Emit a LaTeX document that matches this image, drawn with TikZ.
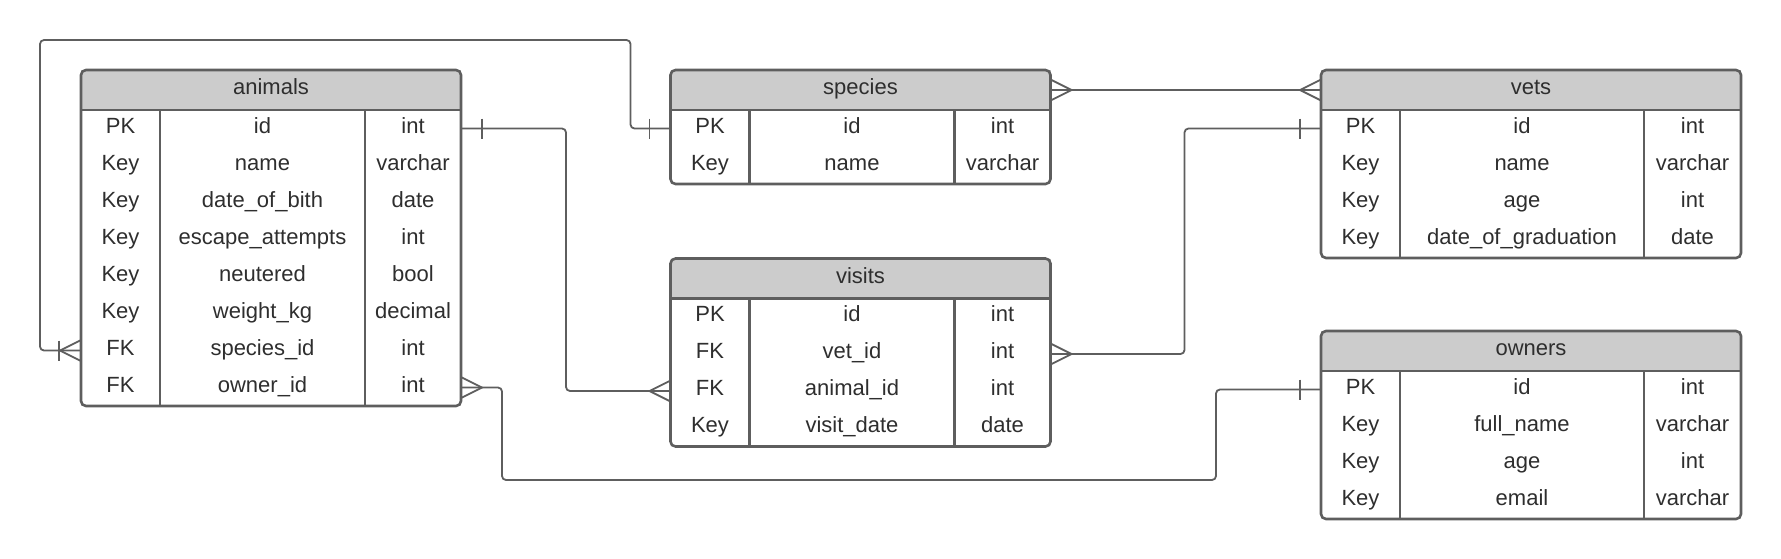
\documentclass[tikz,border=0pt]{standalone}
\usepackage{fontspec}
\setmainfont{Liberation Sans}
\usetikzlibrary{positioning, calc}

\definecolor{edgegray}{HTML}{5E5E5E}
\definecolor{hdrgray}{HTML}{CCCCCC}
\definecolor{txtgray}{HTML}{2E2E2E}

\begin{document}
\begin{tikzpicture}[x=1pt,y=-1pt,node distance=0pt,
every node/.style={inner sep=0pt,outer sep=0pt,text=txtgray,font=\fontsize{22}{24}\selectfont},
hdr/.style={rectangle,fill=hdrgray,minimum height=40,text height=14.6pt,text depth=5.4pt},
cell/.style={rectangle,minimum height=37,text height=14.6pt,text depth=5.4pt},
tbox/.style={draw=edgegray,line width=2.6pt,rounded corners=5pt},
trule/.style={draw=edgegray,line width=2.6pt},
conn/.style={draw=edgegray,line width=1.8pt,rounded corners=4pt},
tickmark/.style={draw=edgegray,line width=1.8pt},
]
\useasboundingbox (0,0) rectangle (1781,558);

% animals
\node[hdr,minimum width=380,anchor=north west] (aH) at (81,70) {animals};
\foreach \ky/\nm/\ty [count=\i] in {PK/id/int, Key/name/varchar, Key/date\_of\_bith/date, Key/escape\_attempts/int, Key/neutered/bool, Key/weight\_kg/decimal, FK/species\_id/int, FK/owner\_id/int}{
  \node[cell,minimum width=79,anchor=north west] (aK\i) at ($(aH.south west)+(0,37*\i-37)$) {\ky};
  \node[cell,minimum width=205,right=of aK\i] (aN\i) {\nm};
  \node[cell,minimum width=96,right=of aN\i] (aT\i) {\ty};
}
\draw[trule] (aH.south west) -- (aH.south east);
\draw[trule] (aN1.north west) -- (aN8.south west);
\draw[trule] (aT1.north west) -- (aT8.south west);
\draw[tbox] (aH.north west) rectangle (aT8.south east);

% species
\node[hdr,minimum width=380,anchor=north west] (sH) at (670.5,70) {species};
\foreach \ky/\nm/\ty [count=\i] in {PK/id/int, Key/name/varchar}{
  \node[cell,minimum width=79,anchor=north west] (sK\i) at ($(sH.south west)+(0,37*\i-37)$) {\ky};
  \node[cell,minimum width=205,right=of sK\i] (sN\i) {\nm};
  \node[cell,minimum width=96,right=of sN\i] (sT\i) {\ty};
}
\draw[trule] (sH.south west) -- (sH.south east);
\draw[trule] (sN1.north west) -- (sN2.south west);
\draw[trule] (sT1.north west) -- (sT2.south west);
\draw[tbox] (sH.north west) rectangle (sT2.south east);

% visits
\node[hdr,minimum width=380,anchor=north west] (vH) at (670.5,258.5) {visits};
\foreach \ky/\nm/\ty [count=\i] in {PK/id/int, FK/vet\_id/int, FK/animal\_id/int, Key/visit\_date/date}{
  \node[cell,minimum width=79,anchor=north west] (vK\i) at ($(vH.south west)+(0,37*\i-37)$) {\ky};
  \node[cell,minimum width=205,right=of vK\i] (vN\i) {\nm};
  \node[cell,minimum width=96,right=of vN\i] (vT\i) {\ty};
}
\draw[trule] (vH.south west) -- (vH.south east);
\draw[trule] (vN1.north west) -- (vN4.south west);
\draw[trule] (vT1.north west) -- (vT4.south west);
\draw[tbox] (vH.north west) rectangle (vT4.south east);

% vets
\node[hdr,minimum width=420,anchor=north west] (vtH) at (1321,70) {vets};
\foreach \ky/\nm/\ty [count=\i] in {PK/id/int, Key/name/varchar, Key/age/int, Key/date\_of\_graduation/date}{
  \node[cell,minimum width=79,anchor=north west] (vtK\i) at ($(vtH.south west)+(0,37*\i-37)$) {\ky};
  \node[cell,minimum width=244,right=of vtK\i] (vtN\i) {\nm};
  \node[cell,minimum width=97,right=of vtN\i] (vtT\i) {\ty};
}
\draw[trule] (vtH.south west) -- (vtH.south east);
\draw[trule] (vtN1.north west) -- (vtN4.south west);
\draw[trule] (vtT1.north west) -- (vtT4.south west);
\draw[tbox] (vtH.north west) rectangle (vtT4.south east);

% owners
\node[hdr,minimum width=420,anchor=north west] (oH) at (1321,331) {owners};
\foreach \ky/\nm/\ty [count=\i] in {PK/id/int, Key/full\_name/varchar, Key/age/int, Key/email/varchar}{
  \node[cell,minimum width=79,anchor=north west] (oK\i) at ($(oH.south west)+(0,37*\i-37)$) {\ky};
  \node[cell,minimum width=244,right=of oK\i] (oN\i) {\nm};
  \node[cell,minimum width=97,right=of oN\i] (oT\i) {\ty};
}
\draw[trule] (oH.south west) -- (oH.south east);
\draw[trule] (oN1.north west) -- (oN4.south west);
\draw[trule] (oT1.north west) -- (oT4.south west);
\draw[tbox] (oH.north west) rectangle (oT4.south east);

\coordinate (loopTL) at (40,40);
\coordinate (ownBot) at (1216,480);

% species -- animals
\draw[conn] (sK1.west) -- ++(-40,0) |- (loopTL) |- (aK7.west);
\draw[tickmark] ($(sK1.west)+(-21,-10)$) -- ($(sK1.west)+(-21,10)$);
\draw[tickmark] ($(aK7.west)+(-22,-10)$) -- ($(aK7.west)+(-22,10)$);
\draw[tickmark] ($(aK7.west)+(0,-10.5)$) -- ($(aK7.west)+(-21,0)$) -- ($(aK7.west)+(0,10.5)$);

% animals -- visits
\draw[conn] (aT1.east) -- ++(105,0) |- (vK3.west);
\draw[tickmark] ($(aT1.east)+(21,-10)$) -- ($(aT1.east)+(21,10)$);
\draw[tickmark] ($(vK3.west)+(0,-10.5)$) -- ($(vK3.west)+(-21,0)$) -- ($(vK3.west)+(0,10.5)$);

% species -- vets
\draw[conn] (sH.east) -- (vtH.west);
\draw[tickmark] ($(sH.east)+(0,-10.5)$) -- ($(sH.east)+(21,0)$) -- ($(sH.east)+(0,10.5)$);
\draw[tickmark] ($(vtH.west)+(0,-10.5)$) -- ($(vtH.west)+(-21,0)$) -- ($(vtH.west)+(0,10.5)$);

% visits -- vets
\draw[conn] (vT2.east) -- ++(134,0) |- (vtK1.west);
\draw[tickmark] ($(vT2.east)+(0,-10.5)$) -- ($(vT2.east)+(21,0)$) -- ($(vT2.east)+(0,10.5)$);
\draw[tickmark] ($(vtK1.west)+(-21,-10)$) -- ($(vtK1.west)+(-21,10)$);

% animals -- owners
\draw[conn] (aT8.east) -- ++(41,0) |- (ownBot) |- (oK1.west);
\draw[tickmark] ($(aT8.east)+(0,-10.5)$) -- ($(aT8.east)+(21,0)$) -- ($(aT8.east)+(0,10.5)$);
\draw[tickmark] ($(oK1.west)+(-21,-10)$) -- ($(oK1.west)+(-21,10)$);
\end{tikzpicture}
\end{document}
